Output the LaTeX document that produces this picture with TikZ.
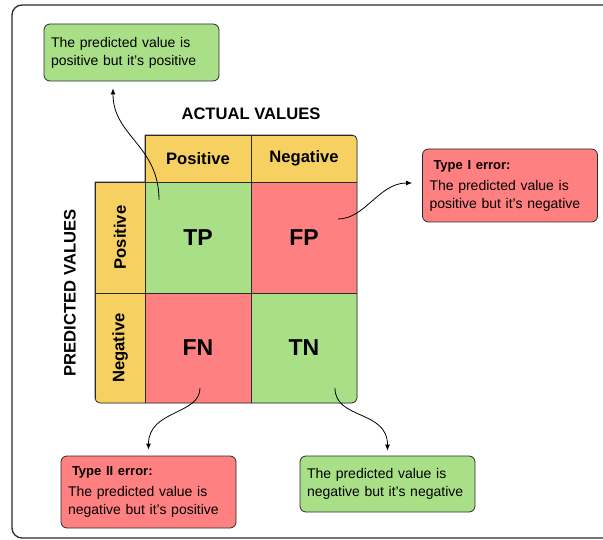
\documentclass[tikz,border=0pt]{standalone}
\usepackage{fontspec}
\setmainfont{Liberation Sans}
\usetikzlibrary{arrows.meta}
\definecolor{okgreen}{HTML}{A9DF87}
\definecolor{errred}{HTML}{FF8080}
\definecolor{headyellow}{HTML}{F7D062}
\definecolor{darkline}{HTML}{2A2A2A}
\newcommand{\errtitle}[1]{{\fontsize{13}{16}\selectfont\bfseries\hspace*{4pt}#1}}
\tikzset{
    cell/.style={rectangle,draw=darkline,line width=0.8pt,inner sep=0pt,minimum width=106pt,minimum height=111pt,font=\fontsize{23}{23}\selectfont\bfseries},
    head/.style={rectangle,draw=darkline,line width=0.8pt,fill=headyellow,inner sep=0pt,font=\fontsize{16.6}{20}\selectfont\bfseries},
    axislabel/.style={font=\fontsize{16.6}{20}\selectfont\bfseries},
    note/.style={rectangle,rounded corners=6pt,draw=darkline,line width=0.8pt,inner xsep=7pt,inner ysep=0pt,text width=161pt,align=left,font=\fontsize{14}{18}\selectfont},
    edge/.style={-{Latex[length=6pt,width=5pt]},line width=0.8pt}
}

\begin{document}
\begin{tikzpicture}[x=1pt,y=-1pt]
\useasboundingbox (0,0) rectangle (603,540);
% frame
\draw[darkline,line width=1.3pt,rounded corners=10pt] (12,5) rectangle (650,538);

% axis labels
\node[axislabel] (actual) at (251,114) {ACTUAL VALUES};
\node[axislabel,rotate=90] (predicted) at (70,293) {PREDICTED VALUES};

% matrix
\begin{scope}
    \clip (251,135) [rounded corners=5pt] -- (357,135) -- (357,403) -- (95,403) -- (95,300) [sharp corners] -- (95,182) -- (145,182) -- (145,135) -- cycle;
    \node[head,minimum width=106pt,minimum height=47pt] (actpos) at (198,158.5) {Positive};
    \node[head,minimum width=106pt,minimum height=47pt] (actneg) at (304,158.5) {Negative};
    \node[head,rotate=90,minimum width=111pt,minimum height=50pt] (predpos) at (120,237.5) {Positive};
    \node[head,rotate=90,minimum width=110pt,minimum height=50pt] (predneg) at (120,348) {Negative};
    \node[cell,fill=okgreen] (tp) at (198,237.5) {TP};
    \node[cell,fill=errred] (fp) at (304,237.5) {FP};
    \node[cell,fill=errred,minimum height=110pt] (fn) at (198,348) {FN};
    \node[cell,fill=okgreen,minimum height=110pt] (tn) at (304,348) {TN};
\end{scope}
\draw[darkline,line width=0.8pt] (251,135) [rounded corners=5pt] -- (357,135) -- (357,403) -- (95,403) -- (95,300) [sharp corners] -- (95,182) -- (145,182) -- (145,135) -- cycle;

% notes
\node[note,fill=okgreen,minimum height=57pt] (tpnote) at (131.5,52.5) {The predicted value is\\positive but it's positive};
\node[note,fill=errred,minimum height=73pt] (typeone) at (510,185.5) {\errtitle{Type I error:}\\[3pt]The predicted value is\\positive but it's negative};
\node[note,fill=errred,minimum height=72pt] (typetwo) at (148.5,492) {\errtitle{Type II error:}\\[3pt]The predicted value is\\negative but it's positive};
\node[note,fill=okgreen,minimum height=56pt] (tnnote) at (387.5,484) {The predicted value is\\negative but it's negative};

% edges
\coordinate (tptail) at (159,200);
\coordinate (fptail) at (338,219);
\coordinate (fntail) at (200,388);
\coordinate (tntail) at (335,388);
\draw[edge,shorten >=7pt] (tptail) .. controls +(0,-55) and +(0,55) .. ([xshift=-18.5pt]tpnote.south);
\draw[edge,shorten >=10pt] (fptail) .. controls +(27,0) and +(-43,0) .. ([yshift=2.5pt]typeone.west);
\draw[edge,shorten >=6pt] (fntail) .. controls +(0,27) and +(0,-46) .. (typetwo.north);
\draw[edge,shorten >=5pt] (tntail) .. controls +(0,32) and +(0,-46) .. (tnnote.north);
\end{tikzpicture}
\end{document}
